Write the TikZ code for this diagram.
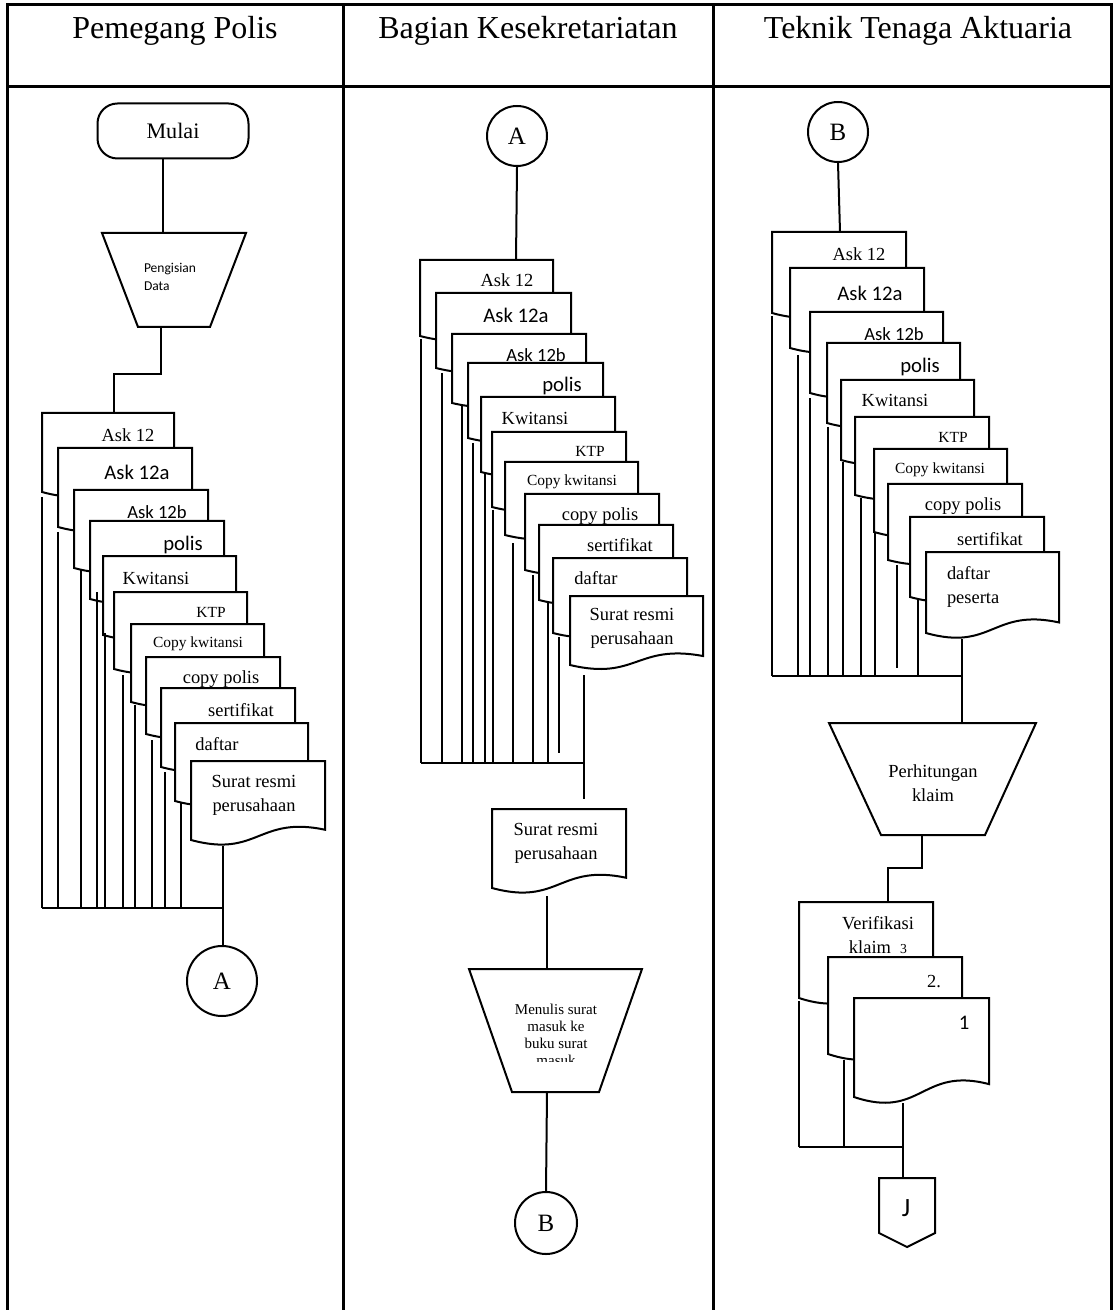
\documentclass[tikz,border=0pt]{standalone}
\usepackage{fontspec}
\setmainfont{Liberation Serif}
\newfontfamily\calibri{Carlito}
\usetikzlibrary{calc}

% document symbol: left, top, right, bottom of the left edge
\newcommand{\flowdoc}[4]{%
  \filldraw[doc] (#1,#2) -- (#3,#2) -- (#3,{#4-0.13*(#4-#2)})
    .. controls ({(#1+#3)/2},{#4-0.31*(#4-#2)}) and ({(#1+#3)/2},{#4+0.23*(#4-#2)}) .. (#1,#4) -- cycle;}

\begin{document}
\begin{tikzpicture}[x=0.1mm,y=-0.1mm,line width=0.2mm,
  tbl/.style={line width=0.3mm},
  doc/.style={draw,fill=white},
  term/.style={draw,rounded corners=2mm,minimum width=15.1mm,minimum height=5.5mm,inner sep=0pt,font=\fontsize{6.3}{7}\selectfont},
  con/.style={draw,circle,inner sep=0pt,minimum size=6mm,font=\fontsize{7.1}{8}\selectfont},
  hd/.style={font=\fontsize{9.1}{10}\selectfont},
  lbl/.style={inner sep=0pt,align=center,font=\fontsize{5.25}{6.8}\selectfont},
  lblsm/.style={inner sep=0pt,font=\fontsize{4.4}{5}\selectfont},
  cal/.style={inner sep=0pt,font=\calibri\fontsize{5.9}{7}\selectfont},
  calsm/.style={inner sep=0pt,font=\calibri\fontsize{5.3}{6}\selectfont}]

  \useasboundingbox (0,0) rectangle (1118,1310);

  % swimlanes
  \draw[tbl] (7,1310) -- (7,5) -- (1111,5) -- (1111,1310);
  \draw[tbl] (343,5) -- (343,1310) (713,5) -- (713,1310);
  \draw[tbl] (7,87) -- (1111,87);
  \node[hd] (hpp) at (175,31) {Pemegang Polis};
  \node[hd] (hbk) at (528,31) {Bagian Kesekretariatan};
  \node[hd] (hta) at (918,31) {Teknik Tenaga Aktuaria};

  % Pemegang Polis
  \node[term] (mulai) at (173,131) {Mulai};
  \draw (102,233) -- (246,233) -- (210,327) -- (138,327) -- cycle;
  \node[inner sep=0pt,align=left,anchor=west,font=\calibri\fontsize{3.85}{5.1}\selectfont] (isi) at (143,277) {Pengisian\\Data};
  \coordinate (isi-t) at (163,233);
  \coordinate (isi-b) at (161,327);
  \draw (mulai.south -| isi-t) -- (isi-t);
  \draw (isi-b) -- (161,374) -- (114,374) -- (114,413);
  \foreach \l/\t/\r/\b in {42/413/174/492,58/448/192/527,74/490/208/568,90/521/224/599,
    103/556/236/635,114/592/247/669,131/624/264/702,146/657/280/734,161/688/295/767,
    175/723/308/801,191/761/325/840}{\flowdoc{\l}{\t}{\r}{\b}}
  \node[lbl] (pp-a) at (128,435) {Ask 12};
  \node[cal] (pp-b) at (137,472) {Ask 12a};
  \node[calsm] (pp-c) at (157,512) {Ask 12b};
  \node[cal] (pp-d) at (183,545) {polis};
  \node[lbl] (pp-e) at (156,578) {Kwitansi};
  \node[lblsm] (pp-f) at (211,612) {KTP};
  \node[lblsm] (pp-g) at (198,644) {Copy kwitansi};
  \node[lbl] (pp-h) at (221,679) {copy polis};
  \node[lbl] (pp-i) at (241,710) {sertifikat};
  \node[lbl] (pp-j) at (217,744) {daftar};
  \node[lbl] (pp-k) at (254,795) {Surat resmi\\perusahaan};
  \foreach \x/\y in {42/497,58/532,81/570,97/592,105/633,123/675,135/705,152/740,165/772,181/803}
    \draw (\x,\y) -- (\x,908);
  \draw (42,908) -- (223,908);
  \node[con,minimum size=7mm] (conA1) at (222,981) {A};
  \draw (223,846) -- (223,946);

  % Bagian Kesekretariatan
  \node[con] (conA2) at (517,136) {A};
  \draw (conA2.south) -- (516,260);
  \foreach \l/\t/\r/\b in {420/260/553/336,436/293/571/368,452/334/586/403,468/363/603/438,
    481/397/615/472,492/432/626/507,505/462/638/535,525/494/659/570,539/525/673/600,
    553/558/687/633,570/596/703/665}{\flowdoc{\l}{\t}{\r}{\b}}
  \node[lbl] (bk-a) at (507,280) {Ask 12};
  \node[cal] (bk-b) at (516,315) {Ask 12a};
  \node[calsm] (bk-c) at (536,355) {Ask 12b};
  \node[cal] (bk-d) at (562,386) {polis};
  \node[lbl] (bk-e) at (535,418) {Kwitansi};
  \node[lblsm] (bk-f) at (590,451) {KTP};
  \node[lblsm] (bk-g) at (572,482) {Copy kwitansi};
  \node[lbl] (bk-h) at (600,516) {copy polis};
  \node[lbl] (bk-i) at (620,545) {sertifikat};
  \node[lbl] (bk-j) at (596,578) {daftar};
  \node[lbl] (bk-k) at (632,628) {Surat resmi\\perusahaan};
  \foreach \x/\y in {421/339,442/373,462/405,473/443,485/474,493/510,513/543,533/575,548/603}
    \draw (\x,\y) -- (\x,763);
  \draw (559,637) -- (559,753);
  \draw (421,763) -- (584,763);
  \draw (584,675) -- (584,799);
  \flowdoc{492}{809}{626}{888}
  \node[lbl] (bk-surat) at (556,843) {Surat resmi\\perusahaan};
  \draw (469,969) -- (642,969) -- (599,1092) -- (512,1092) -- cycle;
  \begin{scope}
    \clip (470,985) rectangle (640,1061);
    \node[inner sep=0pt,align=center,font=\fontsize{4.27}{4.84}\selectfont] (tulis) at (556,1035) {Menulis surat\\masuk ke\\buku surat\\masuk};
  \end{scope}
  \draw (547,896) -- (547,969);
  \node[con,minimum size=6.2mm] (conB1) at (546,1223) {B};
  \draw (547,1092) -- (conB1.north);

  % Teknik Tenaga Aktuaria
  \node[con] (conB2) at (838,132) {B};
  \draw (conB2.south) -- (840,232);
  \foreach \l/\t/\r/\b in {772/232/906/313,790/268/924/348,810/312/943/393,827/343/960/423,
    841/380/974/460,855/417/989/495,874/449/1007/532,888/484/1022/560,910/517/1044/597,
    926/552/1059/633}{\flowdoc{\l}{\t}{\r}{\b}}
  \node[lbl] (ta-a) at (859,254) {Ask 12};
  \node[cal] (ta-b) at (870,293) {Ask 12a};
  \node[calsm] (ta-c) at (894,334) {Ask 12b};
  \node[cal] (ta-d) at (920,367) {polis};
  \node[lbl] (ta-e) at (895,400) {Kwitansi};
  \node[lblsm] (ta-f) at (953,437) {KTP};
  \node[lblsm] (ta-g) at (940,470) {Copy kwitansi};
  \node[lbl] (ta-h) at (963,506) {copy polis};
  \node[lbl] (ta-i) at (990,539) {sertifikat};
  \node[lbl,align=left,anchor=west] (ta-j) at (946,587) {daftar\\peserta};
  \foreach \x/\y in {772/316,798/355,810/398,828/427,843/462,861/498,875/533,918/600}
    \draw (\x,\y) -- (\x,676);
  \draw (897,565) -- (897,668);
  \draw (772,676) -- (962,676);
  \draw (962,639) -- (962,723);
  \draw (829,723) -- (1036,723) -- (985,835) -- (881,835) -- cycle;
  \node[lbl] (hitung) at (933,783) {Perhitungan\\klaim};
  \draw (922,835) -- (922,868) -- (888,868) -- (888,901);
  \foreach \l/\t/\r/\b in {799/902/933/998,828/957/962/1054,854/998/989/1097}{\flowdoc{\l}{\t}{\r}{\b}}
  \node[lbl] (ta-v3) at (878,935) {Verifikasi\\klaim\ \ {\fontsize{3.9}{4}\selectfont 3}};
  \node[lbl] (ta-v2) at (934,982) {2.};
  \node[cal] (ta-v1) at (964,1023) {1};
  \draw (799,1001) -- (799,1147);
  \draw (844,1060) -- (844,1147);
  \draw (799,1147) -- (903,1147);
  \draw (903,1103) -- (903,1178);
  \draw (879,1178) -- (935,1178) -- (935,1233) -- (907,1247) -- (879,1233) -- cycle;
  \node[inner sep=0pt,font=\calibri\fontsize{7.5}{8}\selectfont] (jj) at (906,1208) {J};
\end{tikzpicture}
\end{document}
